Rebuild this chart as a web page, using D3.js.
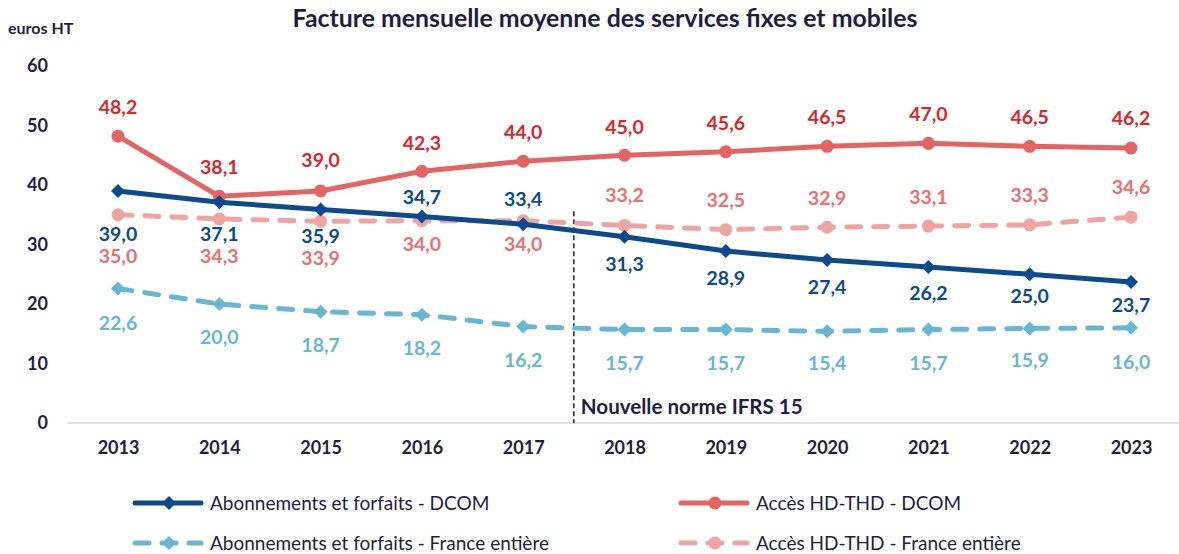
<!DOCTYPE html>
<html>
<head>
<meta charset="utf-8">
<script src="https://cdn.jsdelivr.net/npm/d3@7"></script>
<style>
  body { margin: 0; background: #fff; }
  svg { display: block; font-family: Lato, 'Open Sans', sans-serif; }
</style>
</head>
<body>
<div id="chart"></div>
<script>
const years = ['2013', '2014', '2015', '2016', '2017', '2018', '2019', '2020', '2021', '2022', '2023']
const aboDcom = [39.0, 37.1, 35.9, 34.7, 33.4, 31.3, 28.9, 27.4, 26.2, 25.0, 23.7]
const hdDcom = [48.2, 38.1, 39.0, 42.3, 44.0, 45.0, 45.6, 46.5, 47.0, 46.5, 46.2]
const aboFrance = [22.6, 20.0, 18.7, 18.2, 16.2, 15.7, 15.7, 15.4, 15.7, 15.9, 16.0]
const hdFrance = [35.0, 34.3, 33.9, 34.0, 34.0, 33.2, 32.5, 32.9, 33.1, 33.3, 34.6]
const yTicks = [0, 10, 20, 30, 40, 50, 60]
const ifrsYearAfter = '2018'

const navy = '#1f1d42'
const fmt = v => d3.format('.1f')(v).replace('.', ',')

// label placement (px from point), as in the original chart
const series = [
  { name: 'Accès HD-THD - France entière', values: hdFrance, line: '#f0a3a3', label: '#ee6e6e', marker: 'circle', dashed: true,
    dy: [41, 37, 37, 23, 23, -30, -30, -29, -29, -30, -30] },
  { name: 'Abonnements et forfaits - France entière', values: aboFrance, line: '#67b6d2', label: '#67b6d2', marker: 'diamond', dashed: true,
    dy: [34, 33, 33, 33, 33, 33, 33, 32, 33, 32, 34] },
  { name: 'Accès HD-THD - DCOM', values: hdDcom, line: '#e46363', label: '#d9262b', marker: 'circle', dashed: false,
    dy: [-29, -29, -31, -28, -29, -28, -29, -29, -29, -29, -30] },
  { name: 'Abonnements et forfaits - DCOM', values: aboDcom, line: '#0b4a8c', label: '#0b4a8c', marker: 'diamond', dashed: false,
    dy: [43, 32, 27, -20, -25, 27, 27, 27, 26, 22, 23] },
]

const width = 1179
const height = 554

const svg = d3.select('#chart').append('svg')
  .attr('width', width)
  .attr('height', height)

const x = d3.scalePoint().domain(years).range([118, 1131])
const y = d3.scaleLinear().domain([0, 60]).range([423, 66])

// squeeze/stretch a text node to a target width via font size
function fitWidth(sel, target) {
  const fs = +sel.attr('font-size')
  const w = sel.node().getComputedTextLength()
  sel.attr('font-size', fs * target / w)
}

// title
const title = svg.append('text')
  .attr('x', 605)
  .attr('y', 27)
  .attr('text-anchor', 'middle')
  .attr('font-weight', 700)
  .attr('font-size', 19)
  .attr('fill', navy)
  .text('Facture mensuelle moyenne des services fixes et mobiles')
fitWidth(title, 625)

svg.append('text')
  .attr('x', 8)
  .attr('y', 34)
  .attr('font-weight', 700)
  .attr('font-size', 16)
  .attr('fill', navy)
  .text('euros HT')

// axes
const step = x.step()
svg.append('line')
  .attr('x1', x(years[0]) - step / 2)
  .attr('x2', x(years[years.length - 1]) + step / 2)
  .attr('y1', y(0)).attr('y2', y(0))
  .attr('stroke', '#d9d9d9')
  .attr('stroke-width', 1.5)

const yAxis = svg.append('g')
  .attr('transform', 'translate(48,0)')
  .call(d3.axisLeft(y).tickValues(yTicks).tickSize(0).tickPadding(0))
yAxis.select('.domain').remove()
yAxis.selectAll('text')
  .attr('font-size', 18)
  .attr('font-weight', 700)
  .attr('font-family', 'Lato, sans-serif')
  .attr('fill', navy)

const xAxis = svg.append('g')
  .attr('transform', 'translate(0,441)')
  .call(d3.axisBottom(x).tickSize(0).tickPadding(0))
xAxis.select('.domain').remove()
xAxis.selectAll('text')
  .attr('font-size', 18)
  .attr('font-weight', 700)
  .attr('font-family', 'Lato, sans-serif')
  .attr('fill', navy)

// IFRS 15 marker
const xIfrs = (x(ifrsYearAfter) + x(years[years.indexOf(ifrsYearAfter) - 1])) / 2
svg.append('line')
  .attr('x1', xIfrs).attr('x2', xIfrs)
  .attr('y1', y(35.6)).attr('y2', y(0))
  .attr('stroke', navy)
  .attr('stroke-width', 1.5)
  .attr('stroke-dasharray', '5,3')
const ifrs = svg.append('text')
  .attr('x', xIfrs + 7)
  .attr('y', 414)
  .attr('font-size', 20)
  .attr('font-weight', 700)
  .attr('fill', navy)
  .text('Nouvelle norme IFRS 15')
fitWidth(ifrs, 222)

function drawMarker(g, type, cx, cy, color) {
  if (type === 'circle') {
    g.append('circle').attr('cx', cx).attr('cy', cy).attr('r', 6.5).attr('fill', color)
  } else {
    const s = 7
    g.append('path')
      .attr('d', `M${cx},${cy - s} L${cx + s},${cy} L${cx},${cy + s} L${cx - s},${cy} Z`)
      .attr('fill', color)
  }
}

const line = d3.line().x((d, i) => x(years[i])).y(d => y(d))

series.forEach(s => {
  const g = svg.append('g')
  g.append('path')
    .datum(s.values)
    .attr('d', line)
    .attr('fill', 'none')
    .attr('stroke', s.line)
    .attr('stroke-width', 5)
    .attr('stroke-linecap', 'round')
    .attr('stroke-linejoin', 'round')
    .attr('stroke-dasharray', s.dashed ? '14,13' : null)
  s.values.forEach((v, i) => drawMarker(g, s.marker, x(years[i]), y(v), s.line))
})

// labels on top
series.forEach(s => {
  svg.append('g').selectAll('text')
    .data(s.values)
    .join('text')
    .attr('x', (d, i) => x(years[i]))
    .attr('y', (d, i) => y(d) + s.dy[i])
    .attr('dy', '0.36em')
    .attr('text-anchor', 'middle')
    .attr('font-size', 19.5)
    .attr('font-weight', 700)
    .attr('fill', s.label)
    .text(d => fmt(d))
})

// legend
const legendItems = [
  { s: series[3], x: 133, y: 503 },
  { s: series[2], x: 679, y: 503 },
  { s: series[1], x: 133, y: 543 },
  { s: series[0], x: 679, y: 543 },
]
legendItems.forEach(({ s, x: lx, y: ly }) => {
  const g = svg.append('g')
  g.append('line')
    .attr('x1', lx + 2).attr('x2', lx + 68)
    .attr('y1', ly).attr('y2', ly)
    .attr('stroke', s.line)
    .attr('stroke-width', 5)
    .attr('stroke-linecap', 'round')
    .attr('stroke-dasharray', s.dashed ? '14,13' : null)
  drawMarker(g, s.marker, lx + 36, ly, s.line)
  g.append('text')
    .attr('x', lx + 77)
    .attr('y', ly)
    .attr('dy', '0.36em')
    .attr('font-size', 19)
    .attr('fill', navy)
    .text(s.name)
})
</script>
</body>
</html>
